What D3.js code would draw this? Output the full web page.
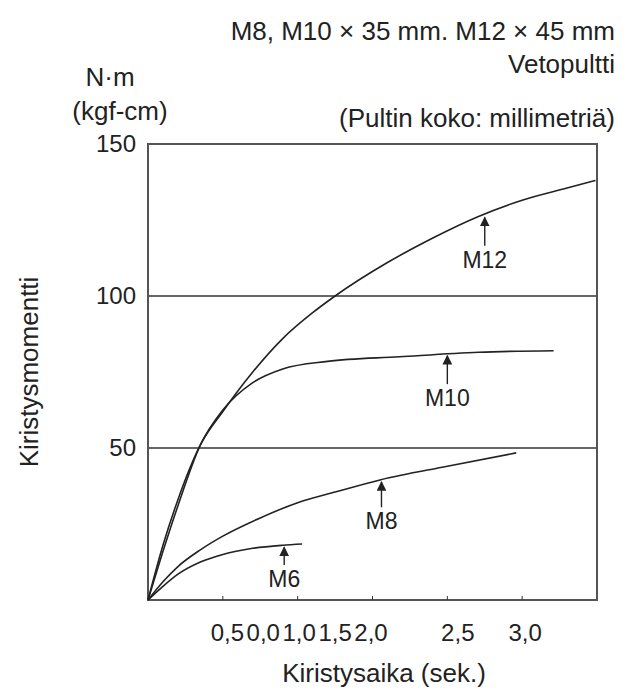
<!DOCTYPE html>
<html><head><meta charset="utf-8">
<script src="https://cdn.jsdelivr.net/npm/d3@7"></script>
<style>body{margin:0;background:#fff}text{font-family:"Liberation Sans",Arial,sans-serif;fill:#222}</style>
</head><body>
<script>
var m12 = [[0,0],[0.1,18],[0.2,33],[0.35,51],[0.5,62],[0.7,75],[0.9,86],[1.1,94.5],[1.25,100],[1.6,111],[1.9,119],[2.2,126],[2.5,131.5],[2.8,135.5],[2.99,138]];
var m10 = [[0,0],[0.1,16],[0.2,31],[0.35,51],[0.5,62.5],[0.7,71.5],[0.9,76],[1.2,78.5],[1.68,80],[2.21,81.5],[2.71,82]];
var m8 = [[0,0],[0.1,6],[0.2,11],[0.35,16.5],[0.5,21],[0.75,27],[1.0,32],[1.25,35.5],[1.55,39.5],[2.0,44],[2.46,48.4]];
var m6 = [[0,0],[0.1,4.5],[0.2,8.5],[0.35,12.5],[0.5,15],[0.7,17],[0.9,18],[1.03,18.4]];
var xTicks = [0.5,1,1.5,2,2.5];
var yTicks = [50,100,150];
var xLabels = ["0,5","0,0","1,0","1,5","2,0","2,5","3,0"];
var xLabelPos = [0.53,0.77,1.01,1.25,1.49,2.07,2.52];
var series = [
  {name:"M12", d:m12, lx:2.25, ly:126.5, len:10},
  {name:"M10", d:m10, lx:2.0, ly:81, len:10},
  {name:"M8", d:m8, lx:1.56, ly:39.5, len:9},
  {name:"M6", d:m6, lx:0.91, ly:18, len:6.5}
];

var svg = d3.select("body").append("svg").attr("width",629).attr("height",695);
var x = d3.scaleLinear().domain([0,3]).range([148,597]);
var y = d3.scaleLinear().domain([0,150]).range([600,144]);

svg.selectAll(".grid").data([50,100]).enter().append("line")
  .attr("x1",x(0)).attr("x2",x(3)).attr("y1",d=>y(d)).attr("y2",d=>y(d))
  .attr("stroke","#333").attr("stroke-width",1.5);
svg.append("rect").attr("x",x(0)).attr("y",y(150)).attr("width",x(3)-x(0)).attr("height",y(0)-y(150))
  .attr("fill","none").attr("stroke","#555").attr("stroke-width",2);
svg.selectAll(".xt").data(xTicks).enter().append("line")
  .attr("x1",d=>x(d)).attr("x2",d=>x(d)).attr("y1",y(0)).attr("y2",y(0)-4).attr("stroke","#333");

svg.selectAll(".yl").data(yTicks).enter().append("text")
  .attr("x",x(0)-12).attr("y",d=>y(d)+8).attr("text-anchor","end").attr("font-size",24).text(d=>d);
svg.selectAll(".xl").data(xLabels).enter().append("text")
  .attr("x",(d,i)=>x(xLabelPos[i])).attr("y",641).attr("text-anchor","middle").attr("font-size",24).text(d=>d);

var line = d3.line().x(d=>x(d[0])).y(d=>y(d[1])).curve(d3.curveMonotoneX);
svg.selectAll(".c").data(series).enter().append("path")
  .attr("d",s=>line(s.d)).attr("fill","none").attr("stroke","#222").attr("stroke-width",1.6);

svg.append("defs").append("marker").attr("id","ah").attr("viewBox","0 0 10 10").attr("refX",9).attr("refY",5)
  .attr("markerWidth",7).attr("markerHeight",7).attr("orient","auto")
  .append("path").attr("d","M0,0L10,5L0,10z").attr("fill","#222");
svg.selectAll(".ar").data(series).enter().append("line")
  .attr("x1",s=>x(s.lx)).attr("x2",s=>x(s.lx)).attr("y1",s=>y(s.ly-s.len)).attr("y2",s=>y(s.ly)+2)
  .attr("stroke","#222").attr("stroke-width",1.4).attr("marker-end","url(#ah)");
svg.selectAll(".sl").data(series).enter().append("text")
  .attr("x",s=>x(s.lx)).attr("y",s=>y(s.ly-s.len)+22).attr("text-anchor","middle").attr("font-size",23).text(s=>s.name);

var t = [["M8, M10 × 35 mm. M12 × 45 mm",40],["Vetopultti",73],["(Pultin koko: millimetriä)",127]];
svg.selectAll(".t").data(t).enter().append("text").attr("x",615).attr("y",d=>d[1])
  .attr("text-anchor","end").attr("font-size",26).text(d=>d[0]);
svg.append("text").attr("x",110).attr("y",86).attr("text-anchor","middle").attr("font-size",26).text("N·m");
svg.append("text").attr("x",120).attr("y",120).attr("text-anchor","middle").attr("font-size",26).text("(kgf-cm)");
svg.append("text").attr("transform","translate(38,372) rotate(-90)").attr("text-anchor","middle").attr("font-size",26).text("Kiristysmomentti");
svg.append("text").attr("x",384).attr("y",682).attr("text-anchor","middle").attr("font-size",26).text("Kiristysaika (sek.)");
</script>
</body></html>
